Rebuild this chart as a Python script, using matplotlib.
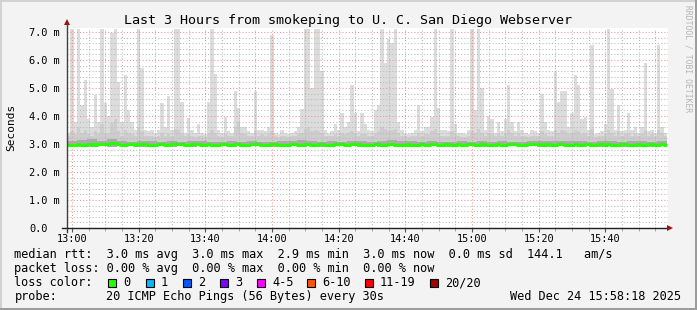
import numpy as np
import matplotlib
matplotlib.use("Agg")
import matplotlib.pyplot as plt
from matplotlib.patches import Rectangle
from matplotlib.ticker import MultipleLocator, FixedLocator

W, H = 697, 310

# upper edge of the smoke, one value per minute (13:00 = minute 0), ms
smoke_max = [
    3.40, 7.10, 3.80, 7.10, 4.40, 5.30, 3.90, 3.60, 4.75, 3.80,
    7.10, 4.45, 4.00, 6.95, 7.10, 5.20, 3.80, 5.45, 4.20, 3.80,
    3.50, 7.10, 5.70, 3.50, 3.45, 3.50, 3.40, 3.50, 4.46, 3.60,
    4.70, 3.50, 7.10, 7.10, 4.50, 3.40, 3.93, 3.50, 3.40, 3.70,
    3.40, 3.35, 4.50, 7.10, 5.50, 3.50, 3.40, 3.95, 3.45, 3.40,
    4.90, 4.30, 3.60, 3.60, 3.45, 3.40, 4.90, 3.50, 3.50, 3.45,
    3.60, 6.90, 3.40, 3.35, 3.50, 3.40, 3.35, 3.40, 3.45, 3.60,
    4.25, 7.10, 7.10, 5.00, 7.10, 7.10, 5.60, 3.50, 3.40, 3.45,
    3.70, 3.50, 4.10, 3.60, 3.80, 5.10, 4.10, 3.45, 4.10, 3.70,
    3.50, 3.45, 4.20, 4.40, 7.10, 5.90, 6.75, 6.60, 7.10, 3.80,
    3.50, 3.40, 3.35, 3.40, 3.50, 4.40, 3.45, 3.60, 3.60, 3.95,
    7.10, 4.30, 3.50, 3.50, 3.45, 7.10, 3.70, 3.40, 3.40, 3.35,
    3.50, 7.10, 4.20, 7.10, 5.00, 3.50, 4.00, 3.90, 3.40, 3.80,
    3.45, 3.90, 5.10, 3.80, 3.45, 3.80, 3.50, 3.40, 3.35, 3.50,
    3.45, 3.40, 4.80, 3.80, 3.50, 3.45, 5.60, 4.50, 4.90, 4.90,
    3.60, 4.10, 5.45, 5.10, 3.90, 3.95, 3.50, 6.55, 3.35, 3.40,
    3.45, 3.70, 7.10, 4.95, 3.50, 4.40, 3.45, 3.50, 4.10, 3.50,
    3.60, 3.40, 3.60, 5.90, 3.45, 3.50, 3.40, 6.55, 3.60, 3.40,
]

# upper edge of the medium grey smoke band, per minute
smoke_hi = [
    3.30, 3.45, 3.35, 3.60, 3.40, 3.50, 3.35, 3.30, 3.45, 3.35,
    3.70, 3.40, 3.35, 3.75, 3.90, 3.45, 3.30, 3.50, 3.40, 3.35,
    3.30, 3.60, 3.45, 3.30, 3.28, 3.30, 3.25, 3.30, 3.40, 3.30,
    3.35, 3.30, 3.55, 3.50, 3.35, 3.28, 3.35, 3.30, 3.25, 3.30,
    3.28, 3.25, 3.35, 3.50, 3.40, 3.30, 3.25, 3.35, 3.28, 3.30,
    3.60, 3.80, 3.40, 3.35, 3.30, 3.28, 3.45, 3.30, 3.35, 3.30,
    3.35, 3.45, 3.28, 3.25, 3.30, 3.28, 3.25, 3.28, 3.30, 3.35,
    3.40, 3.55, 3.60, 3.45, 3.50, 3.45, 3.40, 3.30, 3.28, 3.30,
    3.35, 3.30, 3.40, 3.35, 3.40, 3.45, 3.40, 3.30, 3.35, 3.35,
    3.30, 3.28, 3.40, 3.45, 3.60, 3.55, 3.45, 3.50, 3.55, 3.40,
    3.30, 3.28, 3.25, 3.28, 3.30, 3.40, 3.30, 3.35, 3.35, 3.45,
    3.55, 3.40, 3.30, 3.30, 3.28, 3.45, 3.35, 3.28, 3.25, 3.25,
    3.30, 3.45, 3.40, 3.55, 3.40, 3.30, 3.40, 3.35, 3.28, 3.35,
    3.30, 3.40, 3.50, 3.40, 3.30, 3.40, 3.30, 3.28, 3.25, 3.30,
    3.28, 3.30, 3.45, 3.35, 3.30, 3.30, 3.50, 3.40, 3.50, 3.45,
    3.35, 3.40, 3.50, 3.45, 3.35, 3.40, 3.30, 3.55, 3.25, 3.28,
    3.30, 3.35, 3.50, 3.40, 3.30, 3.45, 3.30, 3.35, 3.40, 3.30,
    3.35, 3.30, 3.35, 3.50, 3.30, 3.35, 3.30, 3.50, 3.40, 3.30,
]

# dark core of the smoke and lower smoke edge, one value per 3 minutes
smoke_mid = [
    3.10, 3.13, 3.16, 3.11, 3.17, 3.09, 3.08, 3.11, 3.09, 3.08,
    3.10, 3.08, 3.11, 3.09, 3.07, 3.08, 3.10, 3.08, 3.09, 3.07,
    3.08, 3.10, 3.12, 3.14, 3.10, 3.08, 3.09, 3.08, 3.10, 3.09,
    3.08, 3.11, 3.14, 3.12, 3.09, 3.08, 3.10, 3.07, 3.08, 3.09,
    3.08, 3.10, 3.08, 3.09, 3.08, 3.07, 3.09, 3.11, 3.09, 3.10,
    3.12, 3.09, 3.08, 3.10, 3.09, 3.08, 3.11, 3.09, 3.08, 3.10,
]
smoke_low = [
    2.89, 2.90, 2.89, 2.91, 2.90, 2.91, 2.92, 2.90, 2.91, 2.91,
    2.90, 2.91, 2.89, 2.91, 2.92, 2.91, 2.90, 2.91, 2.92, 2.91,
    2.90, 2.91, 2.91, 2.90, 2.91, 2.89, 2.91, 2.92, 2.91, 2.90,
    2.91, 2.90, 2.92, 2.91, 2.90, 2.91, 2.91, 2.90, 2.89, 2.91,
    2.91, 2.90, 2.91, 2.92, 2.91, 2.90, 2.91, 2.89, 2.90, 2.91,
    2.91, 2.90, 2.91, 2.89, 2.91, 2.90, 2.91, 2.90, 2.89, 2.91,
]

# median rtt per minute, ms
median_rtt = [
    2.97, 2.96, 2.98, 3.00, 2.98, 2.97, 2.99, 3.00, 2.98, 2.99,
    3.01, 3.00, 2.99, 3.03, 3.05, 2.99, 2.96, 2.98, 3.00, 2.99,
    2.98, 3.00, 3.01, 2.99, 2.97, 2.96, 2.98, 2.99, 3.00, 2.98,
    2.97, 2.99, 3.00, 3.01, 2.99, 2.98, 2.97, 2.99, 3.00, 2.99,
    2.98, 2.97, 2.99, 2.98, 2.96, 2.98, 3.00, 2.99, 2.98, 2.97,
    2.99, 3.00, 2.98, 2.96, 2.97, 2.99, 3.00, 2.99, 2.98, 2.97,
    2.98, 3.00, 2.99, 2.98, 2.97, 2.96, 2.98, 2.99, 3.00, 2.98,
    2.97, 2.99, 3.00, 2.98, 2.97, 2.99, 3.00, 2.98, 2.97, 2.98,
    2.99, 3.00, 2.99, 2.98, 2.97, 2.99, 3.01, 2.99, 2.98, 2.97,
    2.96, 2.98, 3.00, 2.99, 2.98, 2.97, 2.99, 3.00, 2.97, 2.96,
    2.97, 2.98, 2.99, 2.97, 2.96, 2.98, 2.99, 2.97, 2.98, 3.00,
    2.99, 2.98, 2.97, 2.99, 3.00, 2.98, 2.97, 2.99, 2.98, 2.97,
    2.99, 3.00, 2.98, 2.97, 2.99, 3.00, 2.98, 2.97, 2.98, 2.99,
    2.98, 2.97, 2.99, 3.00, 2.99, 2.98, 2.97, 2.98, 3.00, 2.99,
    3.01, 3.00, 2.98, 2.99, 3.00, 2.98, 2.97, 2.99, 3.00, 2.98,
    2.97, 2.98, 2.99, 2.97, 2.98, 3.00, 2.99, 2.98, 2.97, 2.99,
    3.00, 2.98, 2.99, 2.97, 2.96, 2.98, 2.99, 3.00, 2.98, 2.97,
    2.98, 2.99, 2.97, 2.98, 3.00, 2.99, 2.97, 2.98, 2.99, 2.98,
]

x_ticks = [0, 20, 40, 60, 80, 100, 120, 140, 160]
x_labels = ["13:00", "13:20", "13:40", "14:00", "14:20", "14:40", "15:00", "15:20", "15:40"]
y_ticks = [0, 1, 2, 3, 4, 5, 6, 7]
y_labels = ["0.0", "1.0 m", "2.0 m", "3.0 m", "4.0 m", "5.0 m", "6.0 m", "7.0 m"]

loss_labels = ["0", "1", "2", "3", "4-5", "6-10", "11-19", "20/20"]
loss_colors = ["#26ff00", "#00b8ff", "#0059ff", "#7e00ff", "#ff00ff", "#ff5500", "#ff0000", "#a10000"]

title = "Last 3 Hours from smokeping to U. C. San Diego Webserver"
line_rtt = "median rtt:  3.0 ms avg  3.0 ms max  2.9 ms min  3.0 ms now  0.0 ms sd  144.1   am/s"
line_loss = "packet loss: 0.00 % avg  0.00 % max  0.00 % min  0.00 % now"
probe_txt = "20 ICMP Echo Pings (56 Bytes) every 30s"
stamp_txt = "Wed Dec 24 15:58:18 2025"

MONO = "DejaVu Sans Mono"
plt.rcParams["font.family"] = MONO


def fx(px):
    return px / W


def fy(py):
    return 1 - py / H


fig = plt.figure(figsize=(W / 100, H / 100), dpi=100)
fig.patch.set_facecolor("#f3f3f3")

ax = fig.add_axes([fx(67), fy(228), 601 / W, 200 / H])
ax.set_facecolor("white")

# bin edges in minutes after 13:00
edges1 = np.arange(len(smoke_max) + 1) - 1.5
edges3 = np.arange(len(smoke_mid) + 1) * 3 - 1.5


def stepfill(edges, lo, hi, color):
    ax.fill_between(edges, np.append(lo, lo[-1]), np.append(hi, hi[-1]),
                    step="post", color=color, lw=0, zorder=1)


low1 = np.repeat(smoke_low, 3)
stepfill(edges1, low1, smoke_max, "#dcdcdc")
stepfill(edges1, low1, smoke_hi, "#cdcdcd")
stepfill(edges3, smoke_low, smoke_mid, "#ababab")

ax.step(edges1, np.append(median_rtt, median_rtt[-1]), where="post",
        color="#26ff00", lw=2.2, zorder=4, solid_capstyle="butt")

ax.set_xlim(-1.5, 178.8)
ax.set_ylim(0, 7.14)

ax.xaxis.set_major_locator(FixedLocator(x_ticks))
ax.xaxis.set_minor_locator(MultipleLocator(5))
ax.yaxis.set_major_locator(FixedLocator(y_ticks))
ax.yaxis.set_minor_locator(MultipleLocator(0.2))
ax.set_xticklabels(x_labels)
ax.set_yticklabels(y_labels)

ax.grid(which="minor", color="#b8b8b8", linestyle=(0, (1, 2)), linewidth=0.75)
ax.grid(which="major", color="#f09090", linestyle=(0, (1, 2)), linewidth=0.75)
ax.set_axisbelow(False)

for s in ax.spines.values():
    s.set_visible(False)

ax.tick_params(axis="x", which="major", direction="out", length=3, width=0.8,
               color="#555555", pad=1.5, labelsize=7.4)
ax.tick_params(axis="x", which="minor", direction="out", length=2, width=0.6,
               color="#999999")
ax.tick_params(axis="y", which="both", length=0, pad=27.4, labelsize=7.4)
for lab in ax.get_yticklabels():
    lab.set_horizontalalignment("left")

# axis lines with arrow heads
ax.plot([0, 0], [-0.02, 1.03], transform=ax.transAxes, clip_on=False,
        color="#404040", lw=1, zorder=5)
ax.plot([-0.008, 1.0], [0, 0], transform=ax.transAxes, clip_on=False,
        color="#202020", lw=1, zorder=5)
ax.plot([0], [1.03], marker="^", ms=5, mew=0, color="#9b1515",
        transform=ax.transAxes, clip_on=False, zorder=6)
ax.plot([1.004], [0], marker=">", ms=5, mew=0, color="#9b1515",
        transform=ax.transAxes, clip_on=False, zorder=6)

# texts
fig.text(fx(348), fy(24), title, ha="center", va="baseline", fontsize=9.6)
fig.text(fx(11), fy(127), "Seconds", rotation=90, ha="center", va="center", fontsize=8)
fig.text(fx(688), fy(59), "RRDTOOL / TOBI OETIKER", rotation=-90, ha="center",
         va="center", fontsize=5.8, color="#b4b4b4")

LEG = 8.6
fig.text(fx(14.5), fy(258.3), line_rtt, ha="left", va="baseline", fontsize=LEG)
fig.text(fx(14.5), fy(272.3), line_loss, ha="left", va="baseline", fontsize=LEG)
fig.text(fx(14.5), fy(286.3), "loss color:", ha="left", va="baseline", fontsize=LEG)
box_x = [108, 145.5, 182.8, 220, 257.3, 307, 365, 430]
for bx, lab, col in zip(box_x, loss_labels, loss_colors):
    fig.add_artist(Rectangle((fx(bx), fy(286.5)), 8 / W, 8 / H, transform=fig.transFigure,
                             facecolor=col, edgecolor="black", lw=0.8))
    fig.text(fx(bx + 15), fy(286.3), lab, ha="left", va="baseline", fontsize=LEG)
fig.text(fx(14.5), fy(300), "probe:", ha="left", va="baseline", fontsize=LEG)
fig.text(fx(106), fy(300), probe_txt, ha="left", va="baseline", fontsize=LEG)
fig.text(fx(681), fy(300), stamp_txt, ha="right", va="baseline", fontsize=LEG)

# 3d frame around the image
fig.add_artist(Rectangle((0, 1 - 2 / H), 1, 2 / H, transform=fig.transFigure,
                         facecolor="#d2d2d2", lw=0))
fig.add_artist(Rectangle((0, 0), 2 / W, 1, transform=fig.transFigure,
                         facecolor="#d2d2d2", lw=0))
fig.add_artist(Rectangle((0, 0), 1, 2 / H, transform=fig.transFigure,
                         facecolor="#9c9c9c", lw=0))
fig.add_artist(Rectangle((1 - 2 / W, 0), 2 / W, 1, transform=fig.transFigure,
                         facecolor="#9c9c9c", lw=0))

fig.savefig("out.png", dpi=100, facecolor=fig.get_facecolor())
